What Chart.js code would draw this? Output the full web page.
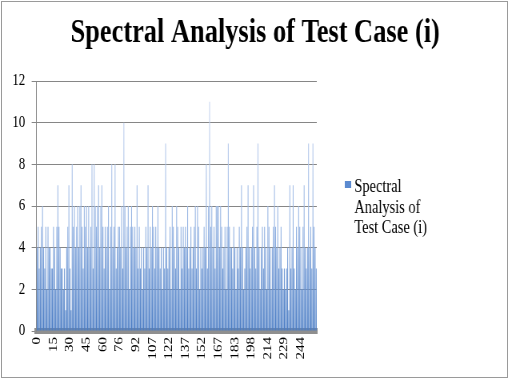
<!DOCTYPE html>
<html>
<head>
<meta charset="utf-8">
<script src="https://cdn.jsdelivr.net/npm/chart.js@4.4.1/dist/chart.umd.min.js"></script>
<style>
  body { margin: 0; overflow: hidden; background: #fff; }
  #frame { position: absolute; left: 1px; top: 1px; width: 505px; height: 375px; border: 1px solid #9a9a9a; }
  #wrap { position: absolute; left: 0; top: 0; width: 638px; height: 383px; transform: scaleX(0.8); transform-origin: 0 0; }
</style>
</head>
<body>
<div id="frame"></div>
<div id="wrap"><canvas id="spectrum" width="638" height="383"></canvas></div>
<script>
// amplitude per bin
const spectrum = [
    4,5,3,4,5,6,4,3,5,2,5,4,4,3,3,
    5,4,2,5,7,5,4,3,3,2,3,1,4,5,7,
    3,1,8,5,6,4,5,6,4,6,7,5,3,6,5,
    6,4,6,4,5,8,3,8,6,5,6,7,4,6,7,
    5,3,5,4,5,6,2,5,8,4,5,8,3,4,5,
    5,4,6,3,10,6,4,5,6,2,5,6,5,4,5,
    4,7,3,5,3,4,2,4,3,5,4,7,3,5,4,
    6,5,3,5,4,6,4,3,4,2,4,3,9,4,3,
    4,5,2,6,5,4,3,6,5,4,2,5,3,5,4,
    5,4,6,3,4,5,3,4,5,6,3,6,5,2,4,
    3,4,5,4,8,3,6,11,5,6,4,5,3,6,6,
    6,4,6,5,3,4,5,2,5,9,5,4,4,3,5,
    4,2,4,3,5,4,7,4,2,3,4,5,7,4,3,
    4,5,7,4,3,5,9,4,2,4,5,3,5,4,2,
    6,5,4,2,4,5,7,5,4,6,3,4,5,3,2,
    3,2,3,4,1,7,3,4,7,3,2,5,4,6,5,
    4,2,5,7,4,3,4,9,4,5,3,9,5,4,3
];
const categories = spectrum.map((v, i) => i);
// x labels shown every 15th bin
const tickLabels = ['0','15','30','45','60','76','92','107','122','137','152','167','183','198','214','229','244'];
const seriesName = 'Spectral Analysis of Test Case (i)';
const legendLines = ['Spectral', 'Analysis of', 'Test Case (i)'];

const serif = '"Liberation Serif", "DejaVu Serif", serif';

let barGradient = null;
function barFill(context) {
    const area = context.chart.chartArea;
    if (!area) return '#6b96d4';
    if (!barGradient) {
        const g = context.chart.ctx.createLinearGradient(0, area.bottom, 0, area.top);
        g.addColorStop(0, '#4a7cc4');
        g.addColorStop(0.4, '#94b3e2');
        g.addColorStop(1, '#d3ddf3');
        barGradient = g;
    }
    return barGradient;
}

const sideLegend = {
    id: 'sideLegend',
    afterDraw(chart) {
        const c = chart.ctx;
        c.save();
        c.fillStyle = '#5b8ad0';
        c.fillRect(431, 181, 8, 7);
        c.font = '18px ' + serif;
        c.fillStyle = '#000';
        c.textBaseline = 'alphabetic';
        legendLines.forEach((t, i) => c.fillText(t, 443, 192 + i * 20.5));
        c.restore();
    }
};

const ctx = document.getElementById('spectrum').getContext('2d');
const chart = new Chart(ctx, {
    type: 'bar',
    data: {
        labels: categories,
        datasets: [{
            label: seriesName,
            data: spectrum,
            backgroundColor: barFill,
            borderWidth: 0,
            barPercentage: 0.8,
            categoryPercentage: 1.0
        }]
    },
    options: {
        responsive: false,
        animation: false,
        devicePixelRatio: 1,
        plugins: {
            legend: { display: false },
            tooltip: { enabled: false },
            title: {
                display: true,
                text: seriesName,
                color: '#000',
                font: { family: serif, size: 33, weight: 'bold', lineHeight: 1.2 },
                padding: { top: 13.2, bottom: 28.2 }
            }
        },
        scales: {
            x: {
                z: 1,
                grid: { drawOnChartArea: false, drawTicks: false },
                border: { display: true, color: '#8f8f8f', width: 6 },
                ticks: {
                    autoSkip: false,
                    minRotation: 90,
                    maxRotation: 90,
                    padding: 6,
                    color: '#000',
                    font: { family: serif, size: 15 },
                    callback: function(value, index) {
                        return index % 15 === 0 ? tickLabels[index / 15] : '';
                    }
                },
                afterFit: function(scale) { scale.height = 52; }
            },
            y: {
                min: 0,
                max: 12,
                ticks: {
                    stepSize: 2,
                    padding: 8,
                    color: '#000',
                    font: { family: serif, size: 16 }
                },
                grid: { color: '#868686', tickLength: 6 },
                border: { color: '#868686' },
                afterFit: function(scale) { scale.width = 45.6; }
            },
            // empty right axis keeps room for the side legend
            legendSpace: {
                position: 'right',
                grid: { drawOnChartArea: false, drawTicks: false },
                border: { display: false },
                ticks: { display: false },
                afterFit: function(scale) { scale.width = 242; }
            }
        }
    },
    plugins: [sideLegend]
});
</script>
</body>
</html>
